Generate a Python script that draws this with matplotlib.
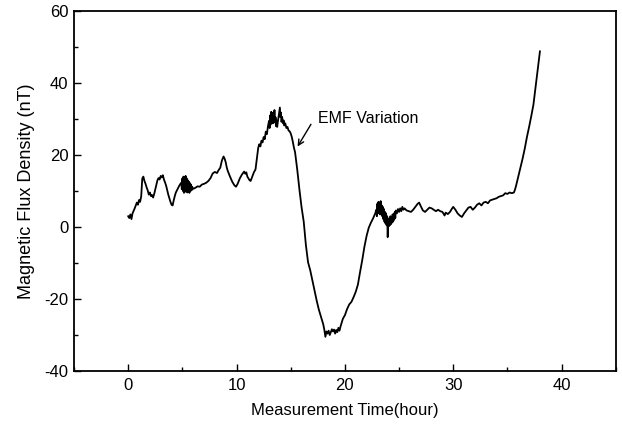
import matplotlib
matplotlib.use("Agg")
import matplotlib.pyplot as plt
from matplotlib.ticker import MultipleLocator

plt.rcParams['font.family'] = ['Liberation Sans', 'DejaVu Sans']
plt.rcParams['axes.unicode_minus'] = False

t = [0.0, 0.1, 0.2, 0.3, 0.4, 0.5, 0.6, 0.7, 0.8, 0.9, 1.0, 1.1, 1.2, 1.3, 1.4,
     1.5, 1.6, 1.7, 1.8, 1.9, 2.0, 2.1, 2.2, 2.3, 2.4, 2.5, 2.6, 2.7, 2.8, 2.9,
     3.0, 3.1, 3.2, 3.3, 3.4, 3.5, 3.6, 3.7, 3.8, 3.9, 4.0, 4.1, 4.2, 4.3, 4.4,
     4.5, 4.6, 4.7, 4.8, 4.9, 4.95, 5.0, 5.05, 5.1, 5.15, 5.2, 5.25, 5.3, 5.35,
     5.4, 5.45, 5.5, 5.55, 5.6, 5.65, 5.7, 5.75, 5.8, 5.85, 5.9, 6.0, 6.2, 6.4,
     6.6, 6.8, 7.0, 7.2, 7.4, 7.6, 7.8, 8.0, 8.2, 8.3, 8.5, 8.65, 8.8, 8.9, 9.0,
     9.1, 9.2, 9.4, 9.6, 9.8, 9.95, 10.1, 10.3, 10.5, 10.7, 10.8, 10.9, 11.0,
     11.2, 11.3, 11.45, 11.6, 11.75, 11.85, 12.0, 12.1, 12.2, 12.3, 12.4, 12.5,
     12.6, 12.7, 12.8, 12.9, 13.0, 13.05, 13.1, 13.15, 13.2, 13.25, 13.3, 13.35,
     13.4, 13.45, 13.5, 13.55, 13.6, 13.65, 13.7, 13.75, 13.8, 13.9, 14.0, 14.05,
     14.1, 14.15, 14.2, 14.3, 14.35, 14.4, 14.5, 14.6, 14.7, 14.8, 14.9, 15.0,
     15.1, 15.2, 15.3, 15.4, 15.6, 15.8, 16.0, 16.2, 16.4, 16.6, 16.8, 17.0,
     17.2, 17.4, 17.6, 17.8, 18.0, 18.1, 18.2, 18.3, 18.4, 18.5, 18.6, 18.7,
     18.8, 18.9, 19.0, 19.1, 19.2, 19.3, 19.4, 19.5, 19.6, 19.7, 19.8, 19.9,
     20.0, 20.2, 20.4, 20.6, 20.8, 21.0, 21.2, 21.4, 21.6, 21.8, 22.0, 22.2,
     22.4, 22.6, 22.8, 22.9, 22.95, 23.0, 23.05, 23.1, 23.15, 23.2, 23.25, 23.3,
     23.35, 23.4, 23.45, 23.5, 23.55, 23.6, 23.65, 23.7, 23.75, 23.8, 23.85,
     23.9, 23.95, 24.0, 24.05, 24.1, 24.15, 24.2, 24.25, 24.3, 24.35, 24.4,
     24.45, 24.5, 24.55, 24.6, 24.65, 24.7, 24.8, 24.9, 25.0, 25.1, 25.2, 25.3,
     25.4, 25.5, 25.7, 25.9, 26.1, 26.3, 26.5, 26.7, 26.85, 27.0, 27.2, 27.4,
     27.6, 27.8, 28.0, 28.2, 28.4, 28.6, 28.8, 29.0, 29.2, 29.3, 29.5, 29.7,
     29.9, 30.0, 30.2, 30.4, 30.6, 30.8, 31.0, 31.2, 31.4, 31.6, 31.8, 32.0,
     32.2, 32.4, 32.6, 32.8, 33.0, 33.2, 33.4, 33.6, 33.8, 34.0, 34.2, 34.4,
     34.6, 34.8, 35.0, 35.2, 35.4, 35.6, 35.7, 35.8, 35.9, 36.0, 36.2, 36.4,
     36.6, 36.8, 37.0, 37.2, 37.4, 37.6, 37.8, 38.0]
b = [3.0, 2.5, 3.5, 2.2, 3.8, 4.5, 5.2, 6.0, 6.8, 6.2, 7.5, 7.0, 8.5, 13.5, 14.0,
     12.8, 12.0, 11.0, 10.2, 9.0, 9.6, 8.6, 8.9, 8.2, 9.2, 10.5, 11.8, 13.0, 13.6, 13.2,
     14.2, 13.8, 14.4, 13.2, 12.4, 11.5, 10.2, 9.0, 8.0, 7.0, 6.2, 6.0, 7.4, 8.6, 9.6,
     10.2, 10.8, 11.4, 11.9, 12.3, 10.5, 13.5, 10.0, 14.0, 9.5, 13.8, 9.8, 14.2, 10.2,
     13.5, 9.6, 13.0, 10.0, 12.6, 9.5, 12.2, 10.0, 11.8, 10.2, 11.2, 10.6, 10.9, 11.3,
     11.2, 11.8, 12.0, 12.3, 12.8, 13.6, 14.9, 15.3, 15.0, 15.6, 16.5, 18.5, 19.6, 19.0, 18.0,
     16.5, 15.5, 14.0, 12.6, 11.6, 11.2, 12.0, 13.5, 14.6, 15.4, 14.8, 15.2, 14.0,
     13.0, 12.8, 14.0, 15.2, 16.0, 18.5, 22.0, 23.0, 22.4, 24.0, 23.5, 25.0,
     24.4, 26.5, 25.8, 28.0, 29.5, 27.5, 31.0, 28.5, 32.0, 29.0, 31.5, 28.8,
     31.8, 29.5, 32.5, 29.0, 30.5, 28.0, 29.6, 27.8, 29.0, 31.0, 33.2, 30.5,
     31.8, 29.2, 30.6, 28.8, 29.6, 28.2, 28.8, 27.5, 27.8, 26.8, 26.6, 26.0,
     25.0, 23.6, 22.0, 20.8, 16.0, 10.5, 5.5, 1.5, -5.0, -9.8, -12.0, -14.8,
     -17.5, -20.5, -23.0, -25.0, -27.0, -28.5, -30.5, -29.0, -29.6, -28.8, -30.0, -29.2,
     -28.4, -29.0, -28.5, -29.6, -28.6, -29.2, -28.0, -28.8, -27.6, -26.6, -25.6, -25.0,
     -24.5, -22.8, -21.5, -20.8, -19.5, -18.0, -16.0, -12.5, -9.2, -5.5, -2.5, -0.2,
     1.2, 2.4, 3.8, 4.8, 3.0, 6.5, 3.8, 7.0, 4.0, 6.2, 3.5, 7.2,
     4.2, 6.0, 3.0, 5.6, 2.2, 5.0, 1.5, 4.2, 1.0, 3.8, 0.5,
     3.0, -2.8, 2.0, 0.2, 2.5, 0.5, 3.0, 0.8, 2.8, 1.2, 3.5,
     1.5, 3.6, 2.0, 4.2, 2.5, 4.6, 3.8, 5.0, 4.2, 5.2, 4.4, 5.6,
     4.8, 5.2, 4.6, 4.4, 4.2, 4.8, 5.6, 6.4, 6.8, 5.8, 4.6, 4.2,
     4.8, 5.4, 5.2, 4.8, 4.4, 4.8, 4.4, 4.2, 3.2, 4.0, 3.6, 4.2,
     5.2, 5.6, 4.8, 3.8, 3.2, 2.8, 3.8, 4.6, 5.4, 5.6, 4.8, 5.4,
     6.2, 6.6, 6.0, 6.8, 7.0, 6.6, 7.4, 7.6, 7.8, 8.0, 8.4, 8.6,
     8.8, 9.4, 9.2, 9.6, 9.4, 9.6, 10.4, 11.5, 12.8, 14.0, 16.5, 19.0,
     21.8, 25.0, 27.8, 30.8, 34.0, 39.0, 44.0, 48.8]

fig = plt.figure(figsize=(6.22, 4.25), dpi=100)
ax = fig.add_axes([0.119, 0.127, 0.871, 0.847])

ax.plot(t, b, color='black', lw=1.3)

ax.set_xlim(-5, 45)
ax.set_ylim(-40, 60)
ax.xaxis.set_major_locator(MultipleLocator(10))
ax.xaxis.set_minor_locator(MultipleLocator(5))
ax.yaxis.set_major_locator(MultipleLocator(20))
ax.yaxis.set_minor_locator(MultipleLocator(10))
ax.tick_params(which='both', direction='in', labelsize=12, top=False, right=False)
ax.tick_params(which='major', length=5, width=1)
ax.tick_params(which='minor', length=3, width=1)
ax.tick_params(axis='x', pad=5)
ax.tick_params(axis='y', pad=4)
for s in ax.spines.values():
    s.set_linewidth(1.3)

ax.set_xlabel('Measurement Time(hour)', fontsize=12, labelpad=7)
ax.set_ylabel('Magnetic Flux Density (nT)', fontsize=13, labelpad=7)

ax.annotate('', xy=(15.5, 21.7), xytext=(17.0, 29.2),
            arrowprops=dict(arrowstyle='->', color='black', lw=1.0))
ax.text(17.5, 30.1, 'EMF Variation', fontsize=11.5, va='center', ha='left')

fig.savefig('out.png', dpi=100)
